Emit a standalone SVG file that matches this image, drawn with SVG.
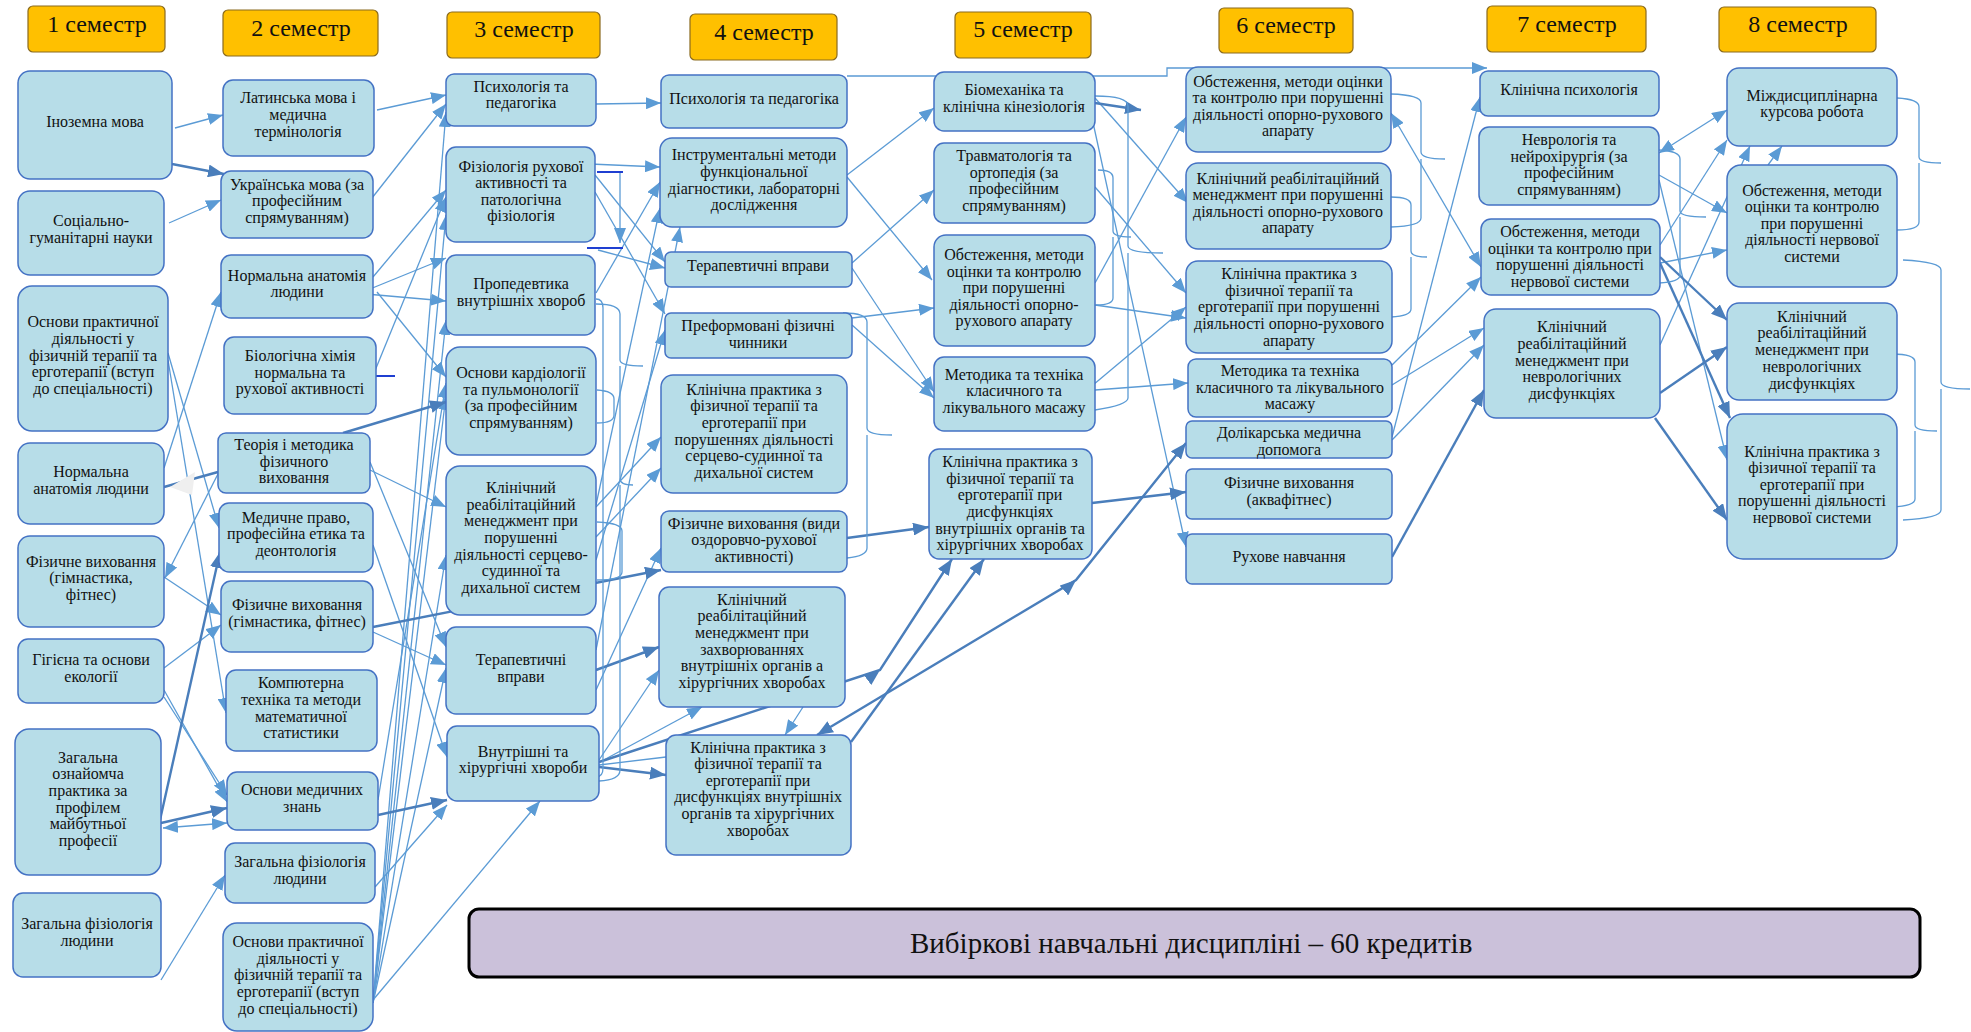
<svg xmlns="http://www.w3.org/2000/svg" width="1971" height="1032" viewBox="0 0 1971 1032">
<style>
.n rect{fill:#B7DDE8;stroke:#4472C4;stroke-width:1.5}
.h rect{fill:#FFC000;stroke:#8A6A1E;stroke-width:1.2}
text{font-family:"Liberation Serif","Times New Roman",serif;fill:#111;text-anchor:middle}
.t{font-size:16px}
.ht{font-size:24px}
.c{fill:none;stroke:#5B9BD5;stroke-width:1.3}
.k{fill:none;stroke:#4A7EBB;stroke-width:2.4}
.br{fill:none;stroke:#5B9BD5;stroke-width:1.3}
.db{fill:none;stroke:#1F3FD1;stroke-width:2}
</style>
<defs>
<marker id="a" viewBox="0 0 15 12" refX="15" refY="6" markerWidth="15" markerHeight="12" markerUnits="userSpaceOnUse" orient="auto-start-reverse"><path d="M0,0L15,6L0,12z" fill="#5B9BD5"/></marker>
<marker id="d" viewBox="0 0 16 13" refX="16" refY="6.5" markerWidth="16" markerHeight="13" markerUnits="userSpaceOnUse" orient="auto-start-reverse"><path d="M0,0L16,6.5L0,13z" fill="#4A7EBB"/></marker>
</defs>
<rect width="1971" height="1032" fill="#fff"/>

<g id="connectors">
<g class="c" marker-end="url(#a)">
<path d="M175,128L223,115"/>
<path d="M169,223L221,200"/>
<path d="M377,110L446,95"/>
<path d="M372,198L446,104"/>
<path d="M373,277L446,190"/>
<path d="M370,289L446,258"/>
<path d="M366,294L446,301"/>
<path d="M377,292L446,377"/>
<path d="M372,378L446,197"/>
<path d="M164,468L221,292"/>
<path d="M221,468L165,578"/>
<path d="M164,577L221,615"/>
<path d="M164,668L221,625"/>
<path d="M168,353L219,528"/>
<path d="M168,360L226,713"/>
<path d="M164,690L227,802"/>
<path d="M164,697L227,795"/>
<path d="M163,828L227,823" marker-start="url(#a)"/>
<path d="M161,980L225,875"/>
<path d="M370,470L446,507"/>
<path d="M370,462L446,647"/>
<path d="M373,545L447,757"/>
<path d="M373,632L446,665"/>
<path d="M375,887L447,805"/>
<path d="M373,1000L540,801"/>
<path d="M373,1003L446,112"/>
<path d="M373,1003L446,215"/>
<path d="M373,1003L446,320"/>
<path d="M373,1003L446,395"/>
<path d="M373,1003L446,555"/>
<path d="M373,1003L446,668"/>
<path d="M378,800L446,383"/>
<path d="M620,173L620,243"/>
<path d="M596,104L661,103"/>
<path d="M590,164L660,167"/>
<path d="M595,175L665,262"/>
<path d="M595,192L665,314"/>
<path d="M598,250L665,268"/>
<path d="M596,293L660,182"/>
<path d="M596,505L660,208"/>
<path d="M596,650L680,227"/>
<path d="M596,560L665,330"/>
<path d="M596,507L661,437"/>
<path d="M596,537L661,468"/>
<path d="M596,690L661,548"/>
<path d="M599,760L659,670"/>
<path d="M600,762L702,707"/>
<path d="M803,707L785,735"/>
<path d="M847,76L1167,76L1167,68L1487,68"/>
<path d="M847,175L934,108"/>
<path d="M847,177L932,280"/>
<path d="M852,263L934,190"/>
<path d="M852,268L934,392"/>
<path d="M852,318L934,308"/>
<path d="M852,325L934,398"/>
<path d="M1095,98L1188,203"/>
<path d="M1092,118L1186,547"/>
<path d="M1095,187L1186,293"/>
<path d="M1095,283L1186,117"/>
<path d="M1095,305L1186,318"/>
<path d="M1095,390L1188,383"/>
<path d="M1093,385L1186,307"/>
<path d="M1391,113L1481,267" marker-start="url(#a)"/>
<path d="M1392,385L1484,328"/>
<path d="M1392,365L1481,277"/>
<path d="M1392,440L1484,345"/>
<path d="M1392,437L1480,97"/>
<path d="M1659,153L1727,110" marker-start="url(#a)"/>
<path d="M1659,175L1727,213"/>
<path d="M1659,180L1727,460"/>
<path d="M1660,245L1727,140"/>
<path d="M1660,263L1727,250"/>
<path d="M1660,345L1750,146"/>
<path d="M1768,165L1782,146"/>
</g>
<path class="c" d="M599,765L666,757"/>
<g class="k" marker-end="url(#d)">
<path d="M172,164L224,174"/>
<path d="M160,820L220,552"/>
<path d="M161,823L227,808"/>
<path d="M343,433L446,402"/>
<path d="M373,627L661,570"/>
<path d="M378,815L447,800"/>
<path d="M596,670L659,647"/>
<path d="M599,767L666,775"/>
<path d="M599,762L880,670L952,559" marker-mid="url(#d)"/>
<path d="M851,742L984,559"/>
<path d="M817,735L1076,580L1186,443" marker-start="url(#d)" marker-mid="url(#d)"/>
<path d="M847,538L929,527"/>
<path d="M1095,103L1141,110"/>
<path d="M1092,503L1186,492"/>
<path d="M1392,557L1484,390"/>
<path d="M1660,257L1727,320"/>
<path d="M1660,263L1730,418"/>
<path d="M1660,393L1727,347"/>
<path d="M1655,418L1727,520"/>
</g>
<path class="k" d="M164,487L218,472"/>
<polygon points="170,487 195,472 192,495" fill="#EFEFEF"/>
<path class="db" d="M368,376L395,376M597,172L623,172M587,248L623,248"/>
<g class="br">
<path d="M596,299Q603,299 603,308L603,768Q603,777 596,777"/>
<path d="M596,304Q620,304 620,314L620,360Q620,366 643,366M620,366L620,479Q620,485 633,485M620,485L620,770Q620,780 599,781"/>
<path d="M597,390Q614,391 614,399L614,415Q614,423 597,423"/>
<path d="M597,522Q622,523 622,531L622,572Q622,580 597,580"/>
<path d="M843,313Q867,313 867,322L867,428Q867,435 892,435M867,435L867,548Q867,556 847,558"/>
<path d="M1095,96Q1128,96 1128,106L1128,246Q1128,253 1163,253M1128,253L1128,398Q1128,405 1095,410"/>
<path d="M1098,170Q1113,170 1113,178L1113,231Q1113,237 1131,237M1113,237L1113,298Q1113,305 1096,305"/>
<path d="M1391,94Q1421,95 1421,103L1421,152Q1421,159 1445,159M1421,159L1421,218Q1421,226 1391,227"/>
<path d="M1391,197Q1411,197 1411,205L1411,251Q1411,257 1427,257M1411,257L1411,309Q1411,316 1391,317"/>
<path d="M1659,150Q1680,151 1680,159L1680,211Q1680,217 1706,217M1680,217L1680,275Q1680,282 1659,283"/>
<path d="M1897,98Q1919,99 1919,107L1919,157Q1919,163 1941,163M1919,163L1919,222Q1919,230 1897,230"/>
<path d="M1903,260Q1941,262 1941,270L1941,382Q1941,389 1970,389M1941,389L1941,510Q1941,518 1903,520"/>
<path d="M1892,354Q1915,354 1915,362L1915,425Q1915,431 1937,431M1915,431L1915,499Q1915,506 1892,507"/>
</g>
</g>

<g id="h1" class="h"><rect x="28" y="6" width="137" height="46" rx="5"/><text class="ht" x="97" y="32">1 семестр</text></g>
<g id="h2" class="h"><rect x="223" y="10" width="155" height="46" rx="5"/><text class="ht" x="301" y="36">2 семестр</text></g>
<g id="h3" class="h"><rect x="447" y="12" width="153" height="46" rx="5"/><text class="ht" x="524" y="37">3 семестр</text></g>
<g id="h4" class="h"><rect x="690" y="14" width="147" height="46" rx="5"/><text class="ht" x="764" y="40">4 семестр</text></g>
<g id="h5" class="h"><rect x="955" y="12" width="136" height="46" rx="5"/><text class="ht" x="1023" y="37">5 семестр</text></g>
<g id="h6" class="h"><rect x="1219" y="8" width="134" height="45" rx="5"/><text class="ht" x="1286" y="33">6 семестр</text></g>
<g id="h7" class="h"><rect x="1487" y="6" width="159" height="46" rx="5"/><text class="ht" x="1567" y="32">7 семестр</text></g>
<g id="h8" class="h"><rect x="1719" y="7" width="157" height="45" rx="5"/><text class="ht" x="1798" y="32">8 семестр</text></g>

<g id="n1a" class="n"><rect x="18" y="71" width="154" height="108" rx="12"/><text class="t"><tspan x="95" y="127">Іноземна мова</tspan></text></g>
<g id="n1b" class="n"><rect x="18" y="191" width="146" height="84" rx="12"/><text class="t"><tspan x="91" y="226">Соціально-</tspan><tspan x="91" y="243">гуманітарні науки</tspan></text></g>
<g id="n1c" class="n"><rect x="18" y="286" width="150" height="145" rx="14"/><text class="t"><tspan x="93" y="327">Основи практичної</tspan><tspan x="93" y="344">діяльності у</tspan><tspan x="93" y="361">фізичній терапії та</tspan><tspan x="93" y="377">ерготерапії (вступ</tspan><tspan x="93" y="394">до спеціальності)</tspan></text></g>
<g id="n1d" class="n"><rect x="18" y="443" width="146" height="81" rx="12"/><text class="t"><tspan x="91" y="477">Нормальна</tspan><tspan x="91" y="494">анатомія людини</tspan></text></g>
<g id="n1e" class="n"><rect x="18" y="536" width="146" height="91" rx="12"/><text class="t"><tspan x="91" y="567">Фізичне виховання</tspan><tspan x="91" y="583">(гімнастика,</tspan><tspan x="91" y="600">фітнес)</tspan></text></g>
<g id="n1f" class="n"><rect x="18" y="639" width="146" height="64" rx="10"/><text class="t"><tspan x="91" y="665">Гігієна та основи</tspan><tspan x="91" y="682">екології</tspan></text></g>
<g id="n1g" class="n"><rect x="15" y="729" width="146" height="146" rx="14"/><text class="t"><tspan x="88" y="763">Загальна</tspan><tspan x="88" y="779">ознайомча</tspan><tspan x="88" y="796">практика за</tspan><tspan x="88" y="813">профілем</tspan><tspan x="88" y="829">майбутньої</tspan><tspan x="88" y="846">професії</tspan></text></g>
<g id="n1h" class="n"><rect x="13" y="893" width="148" height="84" rx="10"/><text class="t"><tspan x="87" y="929">Загальна фізіологія</tspan><tspan x="87" y="946">людини</tspan></text></g>

<g id="n2a" class="n"><rect x="223" y="80" width="151" height="76" rx="10"/><text class="t"><tspan x="298" y="103">Латинська мова і</tspan><tspan x="298" y="120">медична</tspan><tspan x="298" y="137">термінологія</tspan></text></g>
<g id="n2b" class="n"><rect x="221" y="171" width="152" height="67" rx="10"/><text class="t"><tspan x="297" y="190">Українська мова (за</tspan><tspan x="297" y="206">професійним</tspan><tspan x="297" y="223">спрямуванням)</tspan></text></g>
<g id="n2c" class="n"><rect x="221" y="255" width="152" height="63" rx="10"/><text class="t"><tspan x="297" y="281">Нормальна анатомія</tspan><tspan x="297" y="297">людини</tspan></text></g>
<g id="n2d" class="n"><rect x="224" y="337" width="152" height="77" rx="10"/><text class="t"><tspan x="300" y="361">Біологічна хімія</tspan><tspan x="300" y="378">нормальна та</tspan><tspan x="300" y="394">рухової активності</tspan></text></g>
<g id="n2e" class="n"><rect x="218" y="433" width="152" height="60" rx="8"/><text class="t"><tspan x="294" y="450">Теорія і методика</tspan><tspan x="294" y="467">фізичного</tspan><tspan x="294" y="483">виховання</tspan></text></g>
<g id="n2f" class="n"><rect x="219" y="503" width="154" height="69" rx="10"/><text class="t"><tspan x="296" y="523">Медичне право,</tspan><tspan x="296" y="539">професійна етика та</tspan><tspan x="296" y="556">деонтологія</tspan></text></g>
<g id="n2g" class="n"><rect x="221" y="581" width="152" height="71" rx="10"/><text class="t"><tspan x="297" y="610">Фізичне виховання</tspan><tspan x="297" y="627">(гімнастика, фітнес)</tspan></text></g>
<g id="n2h" class="n"><rect x="226" y="670" width="151" height="81" rx="10"/><text class="t"><tspan x="301" y="688">Компютерна</tspan><tspan x="301" y="705">техніка та методи</tspan><tspan x="301" y="722">математичної</tspan><tspan x="301" y="738">статистики</tspan></text></g>
<g id="n2i" class="n"><rect x="227" y="772" width="151" height="58" rx="10"/><text class="t"><tspan x="302" y="795">Основи медичних</tspan><tspan x="302" y="812">знань</tspan></text></g>
<g id="n2j" class="n"><rect x="225" y="843" width="150" height="60" rx="10"/><text class="t"><tspan x="300" y="867">Загальна фізіологія</tspan><tspan x="300" y="884">людини</tspan></text></g>
<g id="n2k" class="n"><rect x="223" y="923" width="150" height="108" rx="14"/><text class="t"><tspan x="298" y="947">Основи практичної</tspan><tspan x="298" y="964">діяльності у</tspan><tspan x="298" y="980">фізичній терапії та</tspan><tspan x="298" y="997">ерготерапії (вступ</tspan><tspan x="298" y="1014">до спеціальності)</tspan></text></g>

<g id="n3a" class="n"><rect x="446" y="74" width="150" height="52" rx="8"/><text class="t"><tspan x="521" y="92">Психологія та</tspan><tspan x="521" y="108">педагогіка</tspan></text></g>
<g id="n3b" class="n"><rect x="446" y="147" width="149" height="95" rx="10"/><text class="t"><tspan x="521" y="172">Фізіологія рухової</tspan><tspan x="521" y="188">активності та</tspan><tspan x="521" y="205">патологічна</tspan><tspan x="521" y="221">фізіологія</tspan></text></g>
<g id="n3c" class="n"><rect x="446" y="255" width="149" height="80" rx="10"/><text class="t"><tspan x="521" y="289">Пропедевтика</tspan><tspan x="521" y="306">внутрішніх хвороб</tspan></text></g>
<g id="n3d" class="n"><rect x="446" y="347" width="150" height="108" rx="14"/><text class="t"><tspan x="521" y="378">Основи кардіології</tspan><tspan x="521" y="395">та пульмонології</tspan><tspan x="521" y="411">(за професійним</tspan><tspan x="521" y="428">спрямуванням)</tspan></text></g>
<g id="n3e" class="n"><rect x="446" y="466" width="150" height="149" rx="14"/><text class="t"><tspan x="521" y="493">Клінічний</tspan><tspan x="521" y="510">реабілітаційний</tspan><tspan x="521" y="526">менеджмент при</tspan><tspan x="521" y="543">порушенні</tspan><tspan x="521" y="560">діяльності серцево-</tspan><tspan x="521" y="576">судинної та</tspan><tspan x="521" y="593">дихальної систем</tspan></text></g>
<g id="n3f" class="n"><rect x="446" y="627" width="150" height="87" rx="10"/><text class="t"><tspan x="521" y="665">Терапевтичні</tspan><tspan x="521" y="682">вправи</tspan></text></g>
<g id="n3g" class="n"><rect x="447" y="726" width="152" height="75" rx="10"/><text class="t"><tspan x="523" y="757">Внутрішні та</tspan><tspan x="523" y="773">хірургічні хвороби</tspan></text></g>

<g id="n4a" class="n"><rect x="661" y="75" width="186" height="53" rx="8"/><text class="t"><tspan x="754" y="104">Психологія та педагогіка</tspan></text></g>
<g id="n4b" class="n"><rect x="660" y="138" width="187" height="89" rx="12"/><text class="t"><tspan x="754" y="160">Інструментальні методи</tspan><tspan x="754" y="177">функціональної</tspan><tspan x="754" y="194">діагностики, лабораторні</tspan><tspan x="754" y="210">дослідження</tspan></text></g>
<g id="n4c" class="n"><rect x="665" y="252" width="187" height="35" rx="6"/><text class="t"><tspan x="758" y="271">Терапевтичні вправи</tspan></text></g>
<g id="n4d" class="n"><rect x="665" y="313" width="187" height="45" rx="6"/><text class="t"><tspan x="758" y="331">Преформовані фізичні</tspan><tspan x="758" y="348">чинники</tspan></text></g>
<g id="n4e" class="n"><rect x="661" y="375" width="186" height="118" rx="12"/><text class="t"><tspan x="754" y="395">Клінічна практика з</tspan><tspan x="754" y="411">фізичної терапії та</tspan><tspan x="754" y="428">ерготерапії при</tspan><tspan x="754" y="445">порушеннях діяльності</tspan><tspan x="754" y="461">серцево-судинної та</tspan><tspan x="754" y="478">дихальної систем</tspan></text></g>
<g id="n4f" class="n"><rect x="661" y="511" width="186" height="61" rx="8"/><text class="t"><tspan x="754" y="529">Фізичне виховання (види</tspan><tspan x="754" y="545">оздоровчо-рухової</tspan><tspan x="754" y="562">активності)</tspan></text></g>
<g id="n4g" class="n"><rect x="659" y="587" width="186" height="120" rx="10"/><text class="t"><tspan x="752" y="605">Клінічний</tspan><tspan x="752" y="621">реабілітаційний</tspan><tspan x="752" y="638">менеджмент при</tspan><tspan x="752" y="655">захворюваннях</tspan><tspan x="752" y="671">внутрішніх органів а</tspan><tspan x="752" y="688">хірургічних хворобах</tspan></text></g>
<g id="n4h" class="n"><rect x="666" y="735" width="185" height="120" rx="10"/><text class="t"><tspan x="758" y="753">Клінічна практика з</tspan><tspan x="758" y="769">фізичної терапії та</tspan><tspan x="758" y="786">ерготерапії при</tspan><tspan x="758" y="802">дисфункціях внутрішніх</tspan><tspan x="758" y="819">органів та хірургічних</tspan><tspan x="758" y="836">хворобах</tspan></text></g>

<g id="n5a" class="n"><rect x="934" y="72" width="161" height="59" rx="10"/><text class="t"><tspan x="1014" y="95">Біомеханіка та</tspan><tspan x="1014" y="112">клінічна кінезіологія</tspan></text></g>
<g id="n5b" class="n"><rect x="934" y="143" width="161" height="80" rx="10"/><text class="t"><tspan x="1014" y="161">Травматологія та</tspan><tspan x="1014" y="178">ортопедія (за</tspan><tspan x="1014" y="194">професійним</tspan><tspan x="1014" y="211">спрямуванням)</tspan></text></g>
<g id="n5c" class="n"><rect x="934" y="235" width="161" height="111" rx="12"/><text class="t"><tspan x="1014" y="260">Обстеження, методи</tspan><tspan x="1014" y="277">оцінки та контролю</tspan><tspan x="1014" y="293">при порушенні</tspan><tspan x="1014" y="310">діяльності опорно-</tspan><tspan x="1014" y="326">рухового апарату</tspan></text></g>
<g id="n5d" class="n"><rect x="934" y="357" width="161" height="74" rx="10"/><text class="t"><tspan x="1014" y="380">Методика та техніка</tspan><tspan x="1014" y="396">класичного та</tspan><tspan x="1014" y="413">лікувального масажу</tspan></text></g>
<g id="n5e" class="n"><rect x="929" y="449" width="163" height="110" rx="10"/><text class="t"><tspan x="1010" y="467">Клінічна практика з</tspan><tspan x="1010" y="484">фізичної терапії та</tspan><tspan x="1010" y="500">ерготерапії при</tspan><tspan x="1010" y="517">дисфункціях</tspan><tspan x="1010" y="534">внутрішніх органів та</tspan><tspan x="1010" y="550">хірургічних хворобах</tspan></text></g>

<g id="n6a" class="n"><rect x="1186" y="67" width="205" height="85" rx="12"/><text class="t"><tspan x="1288" y="87">Обстеження, методи оцінки</tspan><tspan x="1288" y="103">та контролю при порушенні</tspan><tspan x="1288" y="120">діяльності опорно-рухового</tspan><tspan x="1288" y="136">апарату</tspan></text></g>
<g id="n6b" class="n"><rect x="1186" y="163" width="205" height="86" rx="12"/><text class="t"><tspan x="1288" y="184">Клінічний реабілітаційний</tspan><tspan x="1288" y="200">менеджмент при порушенні</tspan><tspan x="1288" y="217">діяльності опорно-рухового</tspan><tspan x="1288" y="233">апарату</tspan></text></g>
<g id="n6c" class="n"><rect x="1186" y="261" width="206" height="92" rx="12"/><text class="t"><tspan x="1289" y="279">Клінічна практика з</tspan><tspan x="1289" y="296">фізичної терапії та</tspan><tspan x="1289" y="312">ерготерапії при порушенні</tspan><tspan x="1289" y="329">діяльності опорно-рухового</tspan><tspan x="1289" y="346">апарату</tspan></text></g>
<g id="n6d" class="n"><rect x="1188" y="359" width="204" height="58" rx="8"/><text class="t"><tspan x="1290" y="376">Методика та техніка</tspan><tspan x="1290" y="393">класичного та лікувального</tspan><tspan x="1290" y="409">масажу</tspan></text></g>
<g id="n6e" class="n"><rect x="1186" y="421" width="206" height="37" rx="6"/><text class="t"><tspan x="1289" y="438">Долікарська медична</tspan><tspan x="1289" y="455">допомога</tspan></text></g>
<g id="n6f" class="n"><rect x="1186" y="469" width="206" height="50" rx="6"/><text class="t"><tspan x="1289" y="488">Фізичне виховання</tspan><tspan x="1289" y="505">(аквафітнес)</tspan></text></g>
<g id="n6g" class="n"><rect x="1186" y="534" width="206" height="50" rx="6"/><text class="t"><tspan x="1289" y="562">Рухове навчання</tspan></text></g>

<g id="n7a" class="n"><rect x="1480" y="71" width="179" height="45" rx="8"/><text class="t"><tspan x="1569" y="95">Клінічна психологія</tspan></text></g>
<g id="n7b" class="n"><rect x="1479" y="127" width="180" height="78" rx="10"/><text class="t"><tspan x="1569" y="145">Неврологія та</tspan><tspan x="1569" y="162">нейрохірургія (за</tspan><tspan x="1569" y="178">професійним</tspan><tspan x="1569" y="195">спрямуванням)</tspan></text></g>
<g id="n7c" class="n"><rect x="1481" y="219" width="179" height="76" rx="10"/><text class="t"><tspan x="1570" y="237">Обстеження, методи</tspan><tspan x="1570" y="254">оцінки та контролю при</tspan><tspan x="1570" y="270">порушенні діяльності</tspan><tspan x="1570" y="287">нервової системи</tspan></text></g>
<g id="n7d" class="n"><rect x="1484" y="309" width="176" height="109" rx="12"/><text class="t"><tspan x="1572" y="332">Клінічний</tspan><tspan x="1572" y="349">реабілітаційний</tspan><tspan x="1572" y="366">менеджмент при</tspan><tspan x="1572" y="382">неврологічних</tspan><tspan x="1572" y="399">дисфункціях</tspan></text></g>

<g id="n8a" class="n"><rect x="1727" y="68" width="170" height="78" rx="12"/><text class="t"><tspan x="1812" y="101">Міждисциплінарна</tspan><tspan x="1812" y="117">курсова робота</tspan></text></g>
<g id="n8b" class="n"><rect x="1727" y="165" width="170" height="122" rx="14"/><text class="t"><tspan x="1812" y="196">Обстеження, методи</tspan><tspan x="1812" y="212">оцінки та контролю</tspan><tspan x="1812" y="229">при порушенні</tspan><tspan x="1812" y="245">діяльності нервової</tspan><tspan x="1812" y="262">системи</tspan></text></g>
<g id="n8c" class="n"><rect x="1727" y="303" width="170" height="97" rx="12"/><text class="t"><tspan x="1812" y="322">Клінічний</tspan><tspan x="1812" y="338">реабілітаційний</tspan><tspan x="1812" y="355">менеджмент при</tspan><tspan x="1812" y="372">неврологічних</tspan><tspan x="1812" y="389">дисфункціях</tspan></text></g>
<g id="n8d" class="n"><rect x="1727" y="414" width="170" height="145" rx="16"/><text class="t"><tspan x="1812" y="457">Клінічна практика з</tspan><tspan x="1812" y="473">фізичної терапії та</tspan><tspan x="1812" y="490">ерготерапії при</tspan><tspan x="1812" y="506">порушенні діяльності</tspan><tspan x="1812" y="523">нервової системи</tspan></text></g>

<g id="elective"><rect x="469" y="909" width="1451" height="68" rx="10" fill="#CBC1DA" stroke="#000" stroke-width="3"/><text x="910" y="953" style="font-size:29px;text-anchor:start">Вибіркові навчальні дисципліні – 60 кредитів</text></g>
</svg>
